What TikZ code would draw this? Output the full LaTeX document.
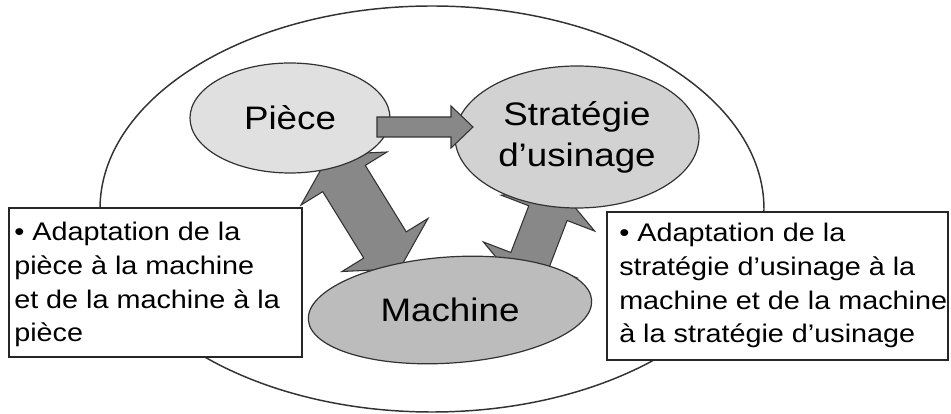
\documentclass[tikz,border=0pt]{standalone}
\usepackage{fontspec}
\setmainfont{Liberation Sans}[FakeStretch=1.13]
\usetikzlibrary{shapes.geometric,calc}

\definecolor{outline}{RGB}{50,50,50}
\definecolor{piecefill}{RGB}{224,224,224}
\definecolor{stratfill}{RGB}{210,210,210}
\definecolor{machfill}{RGB}{188,188,188}
\definecolor{arrowfill}{RGB}{136,136,136}

% block arrow pointing both ways: tip, tip, head length, half shaft, half head
\newcommand\fatdouble[5]{%
  \coordinate (fa) at ($(#1)!#3!(#2)$);
  \coordinate (fb) at ($(#2)!#3!(#1)$);
  \path[fatarrow] (#1)
    -- ($(fa)!#5!90:(#2)$) -- ($(fa)!#4!90:(#2)$)
    -- ($(fb)!#4!-90:(#1)$) -- ($(fb)!#5!-90:(#1)$)
    -- (#2)
    -- ($(fb)!#5!90:(#1)$) -- ($(fb)!#4!90:(#1)$)
    -- ($(fa)!#4!-90:(#2)$) -- ($(fa)!#5!-90:(#2)$)
    -- cycle;}
% block arrow with a flat tail: tail, tip, head length, half shaft, half head
\newcommand\fatsingle[5]{%
  \coordinate (fb) at ($(#2)!#3!(#1)$);
  \path[fatarrow] ($(#1)!#4!90:(#2)$)
    -- ($(fb)!#4!-90:(#1)$) -- ($(fb)!#5!-90:(#1)$)
    -- (#2)
    -- ($(fb)!#5!90:(#1)$) -- ($(fb)!#4!90:(#1)$)
    -- ($(#1)!#4!-90:(#2)$) -- cycle;}

\tikzset{
  fatarrow/.style={fill=arrowfill, draw=outline, line width=0.8pt, line join=miter},
  bubble/.style={ellipse, draw=outline, line width=0.9pt, inner sep=0pt,
    font=\fontsize{24.4}{30.75}\selectfont, align=center},
  notebox/.style={draw=black!85, line width=1.7pt, fill=white, inner sep=0pt},
  notetext/.style={anchor=north west, inner sep=0pt, align=left,
    font=\fontsize{19.1}{25.3}\selectfont},
}

\begin{document}
\begin{tikzpicture}[x=0.75pt, y=0.75pt]
\useasboundingbox (0,0) rectangle (951,414);

% surrounding ellipse
\node[ellipse, draw=outline, line width=1.1pt, minimum width=498pt,
      minimum height=304.5pt, inner sep=0pt] (world) at (432,205) {};

% the two comment boxes
\draw[notebox] (9,206) rectangle (302,57);
\node[notetext] (leftnote) at (14,192)
  {• Adaptation de la\\pièce à la machine\\et de la machine à la\\pièce};
\draw[notebox] (607,202) rectangle (948,54);
\node[notetext] (rightnote) at (619,191)
  {• Adaptation de la\\stratégie d’usinage à la\\machine et de la machine\\à la stratégie d’usinage};

% two-way exchanges (tips tucked under the bubbles)
\coordinate (pm1) at (329.3,259.3);
\coordinate (pm2) at (399.7,145.2);
\fatdouble{pm1}{pm2}{21pt}{18.75pt}{37.9pt}
\coordinate (sm1) at (558,227);
\coordinate (sm2) at (520,128);
\fatdouble{sm1}{sm2}{21pt}{15.4pt}{37.5pt}

% the three bubbles
\node[bubble, fill=piecefill, minimum width=150pt, minimum height=82.5pt]
  (piece) at (290,296) {Pièce};
\node[bubble, fill=stratfill, minimum width=183pt, minimum height=106.5pt]
  (strat) at (577,277) {Stratégie\\d’usinage};
\node[bubble, fill=machfill, minimum width=213pt, minimum height=79.5pt,
      rotate=4] (mach) at (450,104) {};
\node[font=\fontsize{24.4}{30.75}\selectfont, inner sep=0pt] (machlabel)
  at (mach.center) {Machine};

% one-way arrow from the part to the strategy
\coordinate (ps1) at ($(piece.center)+(87,-9)$);
\coordinate (ps2) at ($(strat.center)+(-104,10)$);
\fatsingle{ps1}{ps2}{16.5pt}{7.5pt}{15.75pt}
\end{tikzpicture}
\end{document}
